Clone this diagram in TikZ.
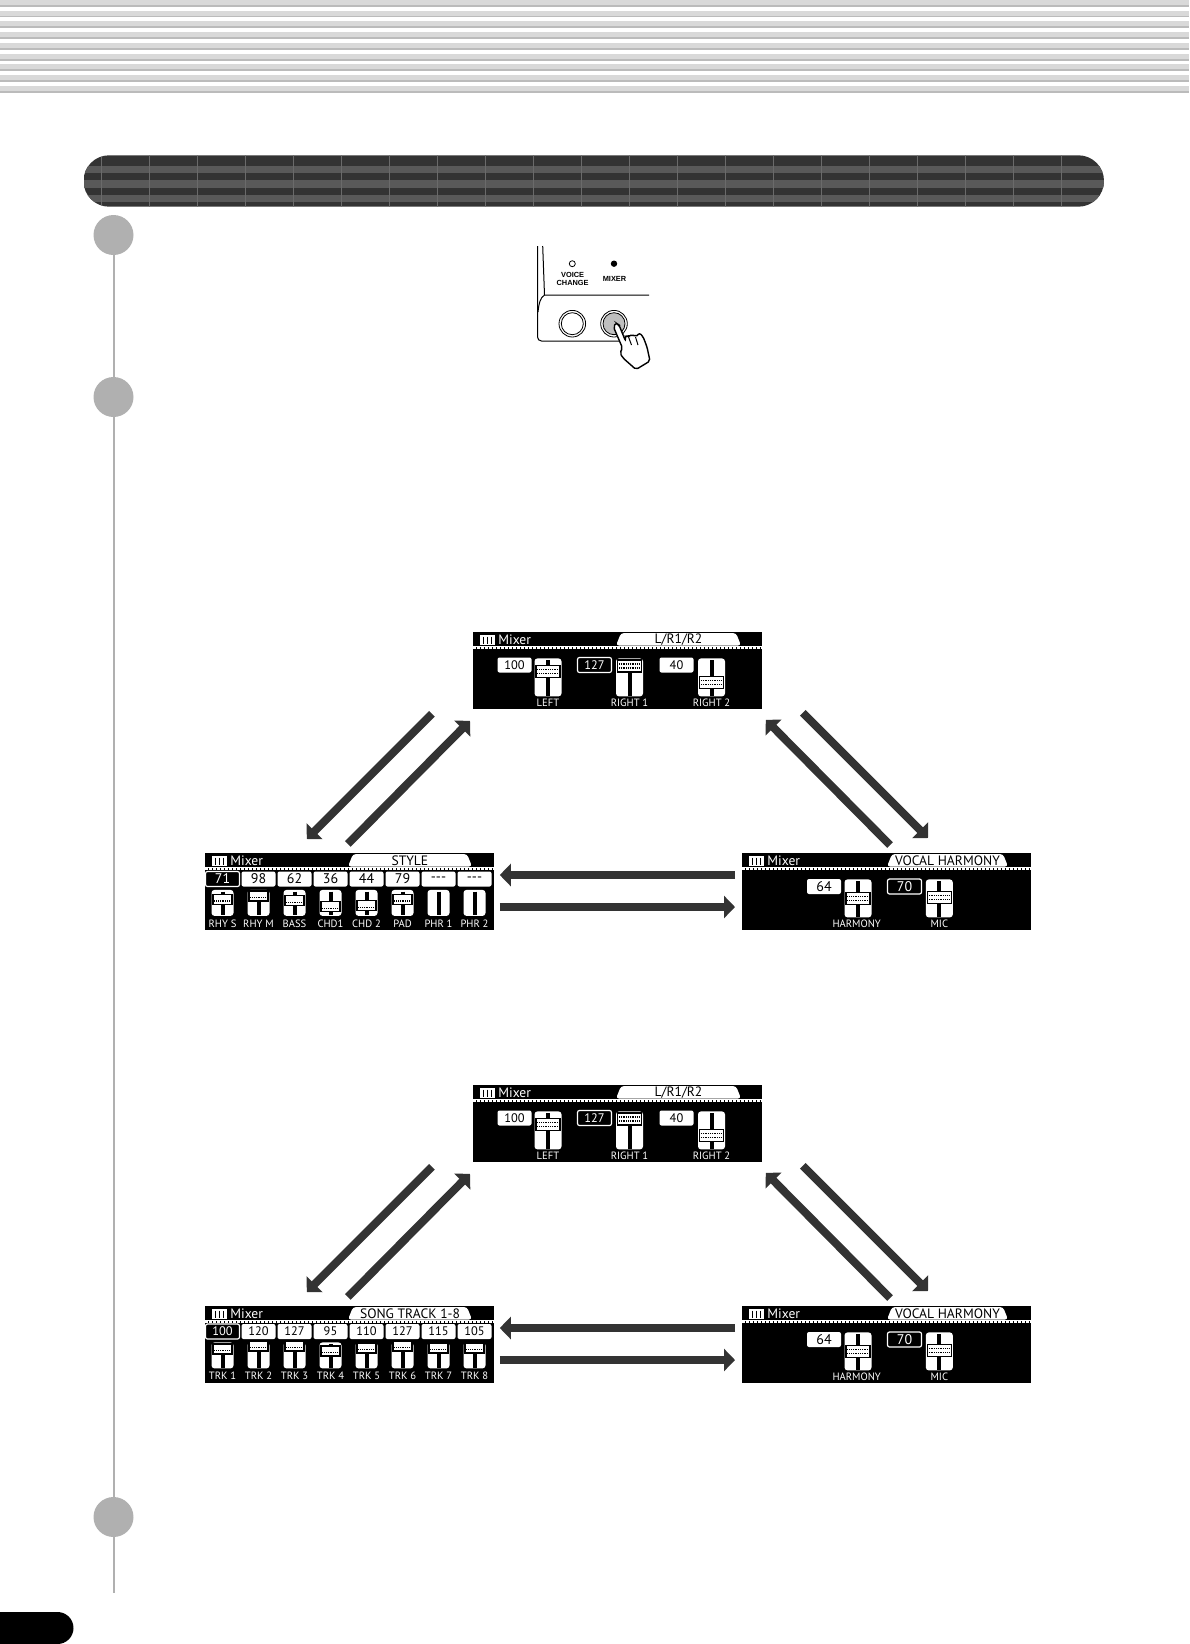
\documentclass[tikz,border=0pt]{standalone}
\usepackage{fontspec}
\setmainfont{Liberation Sans}
\newfontfamily\lcdfont{PT Sans}
\usetikzlibrary{arrows.meta}

\definecolor{stripeA}{HTML}{D9D9D9}
\definecolor{stripeB}{HTML}{BBBBBB}
\definecolor{barA}{HTML}{333333}
\definecolor{barB}{HTML}{595959}
\definecolor{barC}{HTML}{6A6A6A}
\definecolor{stepgray}{HTML}{B0B0B0}

% one fader: name, kind (big/small), x, top, grip y, row offsets
\newcommand{\fader}[6]{
    \node[#2body] (#1) at (#3, #4) {};
    \draw[faderline] ([shift={(0, 2)}]#1.north) -- ([shift={(0, -1)}]#1.south);
    \node[#2grip] (#1g) at (#3, #5) {};
    \foreach \d in {#6} {
        \draw[griprow] ([shift={(2, \d)}]#1g.west) -- ([shift={(-2, \d)}]#1g.east);
    }
}

% head of a panel: tab left, tab right, tab text
\newcommand{\mixerhead}[3]{
    \node[iconbox] (icon) at (14.5, 8) {};
    \foreach \x in {10.5, 14.5, 18.5} {
        \draw[black, line width=0.5pt] (\x, 4.5) -- (\x, 11.5);
    }
    \node[mixtext] (mixer) at (25, 7.5) {Mixer};
    \fill[white, rounded corners=1.5pt] (#1, 13.5) -- ({#1+5}, 1) -- ({#2-5}, 1) -- (#2, 13.5) -- cycle;
    \node[tabtext] (tab) at ({(#1+#2)/2}, 8) {#3};
    \draw[white, line width=0.4pt] (0, 14.2) -- (289, 14.2);
    \draw[dotrow] (0, 16) -- (289, 16);
}

% L/R1/R2 panel
\newcommand{\lrpanel}{
    \mixerhead{143}{268}{L/R1/R2}
    \node[valbox] (val1) at (41.5, 33) {100};
    \node[valinv] (val2) at (121.5, 33) {127};
    \node[valbox] (val3) at (203.5, 33) {40};
    \fader{fad1}{big}{75}{26}{39.7}{-2, 2}
    \fader{fad2}{big}{156.5}{26}{34}{-2, 2}
    \fader{fad3}{big}{238.5}{26}{50.7}{-2, 2}
    \node[faderlbl] (lbl1) at (75, 71) {LEFT};
    \node[faderlbl] (lbl2) at (156.5, 71) {RIGHT 1};
    \node[faderlbl] (lbl3) at (238.5, 71) {RIGHT 2};
}

% vocal harmony panel
\newcommand{\vocalpanel}{
    \mixerhead{145}{266}{VOCAL HARMONY}
    \node[valbox, font=\lcdfont\fontsize{7}{7}\selectfont] (val1) at (82, 33.5) {64};
    \node[valinv, font=\lcdfont\fontsize{7}{7}\selectfont] (val2) at (162.5, 33.5) {70};
    \fader{fad1}{big}{116}{26}{45.3}{-2, 2}
    \fader{fad2}{big}{197.3}{26}{44.3}{-2, 2}
    \node[faderlbl] (lbl1) at (114.7, 70.5) {HARMONY};
    \node[faderlbl] (lbl2) at (197.3, 70.5) {MIC};
}

\begin{document}
\begin{tikzpicture}[
    x=0.5pt, y=-0.5pt,
    arr/.style={-{Triangle[length=5.5pt, width=11pt]}, line width=4pt, barA},
    stepdot/.style={circle, fill=stepgray, minimum size=20pt, inner sep=0pt},
    panel/.style={fill=black, anchor=north west, inner sep=0pt, minimum width=144.5pt, minimum height=38.5pt},
    iconbox/.style={fill=white, minimum width=7.5pt, minimum height=5pt, inner sep=0pt},
    mixtext/.style={anchor=west, inner sep=0pt, text=white, font=\lcdfont\fontsize{6.8}{7}\selectfont},
    tabtext/.style={inner sep=0pt, text=black, font=\lcdfont\fontsize{6.8}{7}\selectfont},
    dotrow/.style={white, line width=1pt, dash pattern=on 1.6pt off 0.4pt},
    valbox/.style={fill=white, text=black, rounded corners=1pt, inner sep=0pt,
        minimum width=17pt, minimum height=7.5pt, font=\lcdfont\fontsize{6.2}{6}\selectfont},
    valinv/.style={valbox, fill=black, draw=white, line width=0.6pt, text=white},
    bigbody/.style={fill=white, anchor=north, rounded corners=1.5pt, inner sep=0pt,
        minimum width=13.5pt, minimum height=19pt},
    smallbody/.style={bigbody, minimum width=11pt, minimum height=13pt},
    biggrip/.style={fill=white, draw=black, line width=0.6pt, inner sep=0pt,
        minimum width=12pt, minimum height=6pt},
    smallgrip/.style={biggrip, minimum width=9.5pt, minimum height=5pt},
    faderline/.style={black, line width=2pt},
    griprow/.style={black, line width=0.7pt, dash pattern=on 0.5pt off 0.4pt},
    faderlbl/.style={inner sep=0pt, text=white, font=\lcdfont\fontsize{5.3}{5}\selectfont},
    keytext/.style={inner sep=0pt, align=center, font=\bfseries\fontsize{3.7}{4}\selectfont},
    keyring/.style={circle, draw=black, line width=0.4pt, fill=white, minimum size=13.3pt, inner sep=0pt},
    keyface/.style={circle, draw=black, line width=0.4pt, minimum size=11pt, inner sep=0pt},
]
\useasboundingbox (0, 0) rectangle (1189, 1644);

% --- Top stripes ---
\foreach \ya/\yb/\yc in {
    0/5/6.5, 11/16/17, 21/26/28, 32/37/39, 43/48/50,
    54/59/60.5, 64/69/71, 75/80/82, 86/91/93
} {
    \fill[stripeA] (0, \ya) rectangle (1189, \yb);
    \fill[stripeB] (0, \yb) rectangle (1189, \yc);
}

% --- Title bar ---
\begin{scope}
    \clip[rounded corners=12.8pt] (83.5, 155.3) rectangle (1104, 206.7);
    \fill[barA] (83.5, 155.3) rectangle (1104, 206.7);
    \foreach \ya/\yb in {166/172.7, 180/187.7, 195/201.7} {
        \fill[barB] (83.5, \ya) rectangle (1104, \yb);
    }
    \foreach \x in {101, 149, ..., 1061} {
        \draw[barC, line width=0.5pt] (\x, 155.3) -- (\x, 206.7);
    }
\end{scope}

% --- Step line ---
\node[stepdot] (step1) at (113.5, 235) {};
\node[stepdot] (step2) at (113.5, 397) {};
\node[stepdot] (step3) at (113.5, 1517) {};
\coordinate (stepend) at (113.5, 1593);
\draw[stepgray, line width=1pt] (step1) -- (step2) -- (step3) -- (stepend);

% Page tab
\fill[black, rounded corners=8pt] (-30, 1612) rectangle (73.5, 1644);

% --- Key panel ---
\draw[black, line width=0.5pt, rounded corners=2pt] (537.5, 246) -- (537.5, 341) -- (620, 341);
\draw[black, line width=0.5pt] (542.7, 246) -- (544.5, 295) -- (649, 295);
\draw[black, line width=0.5pt] (544.5, 295) .. controls (540, 298) and (539, 303) .. (538, 312);

\node[circle, draw=black, line width=0.4pt, minimum size=3pt, inner sep=0pt] (ledvoice) at (572.3, 263.7) {};
\node[circle, fill=black, minimum size=3.2pt, inner sep=0pt] (ledmixer) at (614, 263.7) {};
\node[keytext] (txtvoice) at (572.6, 279) {VOICE\\[-0.2pt]CHANGE};
\node[keytext] (txtmixer) at (614.5, 278.5) {MIXER};

\node[keyring] (ringvoice) at (572.3, 323.7) {};
\node[keyface] (facevoice) at (572.3, 323.7) {};
\node[keyring] (ringmixer) at (614, 323.7) {};
\node[keyface, fill=black!25] (facemixer) at (614, 323.7) {};

% Hand
\draw[black, line width=0.7pt, fill=white, rounded corners=1pt]
    (613.5, 327) -- (622.5, 348) -- (620, 353) -- (623, 358) -- (636, 369.5)
    -- (650, 361) -- (647, 347) -- (643, 336.5) -- (639.5, 333) -- (635.5, 337)
    -- (632, 334) -- (628.5, 337) -- (625.5, 335.5) -- (625.5, 341)
    -- (619, 325) -- (616, 323) -- cycle;
\draw[black, line width=0.5pt] (628.5, 337) -- (631.5, 345);
\draw[black, line width=0.5pt] (635.5, 337) -- (638, 345);

% --- Panels, upper triangle ---
\node[panel] (mixtop) at (473, 632) {};
\node[panel] (mixleft) at (205, 853) {};
\node[panel] (mixright) at (742, 853) {};

\begin{scope}[shift={(473, 632)}, name prefix=mixtop-]
    \lrpanel
\end{scope}

\begin{scope}[shift={(205, 853)}, name prefix=mixleft-]
    \mixerhead{143}{267}{STYLE}
    \foreach \i/\sty/\val/\grip/\lbl in {
        0/valinv/71/46.3/RHY S, 1/valbox/98/43/RHY M, 2/valbox/62/47.7/BASS,
        3/valbox/36/53.7/CHD1, 4/valbox/44/52.7/CHD 2, 5/valbox/79/46.3/PAD
    } {
        \pgfmathsetmacro{\xc}{17.5+36*\i}
        \node[\sty] (val\i) at (\xc, 26) {\fontsize{7}{7}\selectfont\val};
        \fader{fad\i}{small}{\xc}{36.5}{\grip}{1.5}
        \node[faderlbl] (lbl\i) at (\xc, 70.5) {\lbl};
    }
    \foreach \i/\lbl in {6/PHR 1, 7/PHR 2} {
        \pgfmathsetmacro{\xc}{17.5+36*\i}
        \node[valbox] (val\i) at (\xc, 26) {\fontsize{7}{7}\selectfont{-}{-}{-}};
        \node[smallbody] (fad\i) at (\xc, 36.5) {};
        \draw[faderline] ([shift={(0, 2)}]fad\i.north) -- ([shift={(0, -1)}]fad\i.south);
        \node[faderlbl] (lbl\i) at (\xc, 70.5) {\lbl};
    }
\end{scope}

\begin{scope}[shift={(742, 853)}, name prefix=mixright-]
    \vocalpanel
\end{scope}

% Arrows, upper triangle
\draw[arr] ([shift={(-41, 4)}]mixtop.south west) -- ([shift={(-188, -14)}]mixleft.north east);
\draw[arr] ([shift={(-147, -9)}]mixleft.north east) -- ([shift={(-3, 11)}]mixtop.south west);
\draw[arr] ([shift={(148, -8)}]mixright.north west) -- ([shift={(3, 10)}]mixtop.south east);
\draw[arr] ([shift={(40, 3)}]mixtop.south east) -- ([shift={(186, -15)}]mixright.north west);
\draw[arr] ([shift={(-7, 22)}]mixright.north west) -- ([shift={(5, 22)}]mixleft.north east);
\draw[arr] ([shift={(5, 54)}]mixleft.north east) -- ([shift={(-7, 54)}]mixright.north west);

% --- Panels, lower triangle ---
\node[panel] (songtop) at (473, 1085) {};
\node[panel] (songleft) at (205, 1306) {};
\node[panel] (songright) at (742, 1306) {};

\begin{scope}[shift={(473, 1085)}, name prefix=songtop-]
    \lrpanel
\end{scope}

\begin{scope}[shift={(205, 1306)}, name prefix=songleft-]
    \mixerhead{143}{267}{SONG TRACK 1-8}
    \foreach \i/\sty/\val/\grip/\lbl in {
        0/valinv/100/43/TRK 1, 1/valbox/120/40/TRK 2, 2/valbox/127/40/TRK 3,
        3/valbox/95/45/TRK 4, 4/valbox/110/42/TRK 5, 5/valbox/127/40/TRK 6,
        6/valbox/115/42/TRK 7, 7/valbox/105/42/TRK 8
    } {
        \pgfmathsetmacro{\xc}{17.5+36*\i}
        \node[\sty] (val\i) at (\xc, 25.5) {\val};
        \fader{fad\i}{small}{\xc}{36}{\grip}{1.5}
        \node[faderlbl] (lbl\i) at (\xc, 70) {\lbl};
    }
\end{scope}

\begin{scope}[shift={(742, 1306)}, name prefix=songright-]
    \vocalpanel
\end{scope}

% Arrows, lower triangle
\draw[arr] ([shift={(-41, 4)}]songtop.south west) -- ([shift={(-188, -14)}]songleft.north east);
\draw[arr] ([shift={(-147, -9)}]songleft.north east) -- ([shift={(-3, 11)}]songtop.south west);
\draw[arr] ([shift={(148, -8)}]songright.north west) -- ([shift={(3, 10)}]songtop.south east);
\draw[arr] ([shift={(40, 3)}]songtop.south east) -- ([shift={(186, -15)}]songright.north west);
\draw[arr] ([shift={(-7, 22)}]songright.north west) -- ([shift={(5, 22)}]songleft.north east);
\draw[arr] ([shift={(5, 54)}]songleft.north east) -- ([shift={(-7, 54)}]songright.north west);

\end{tikzpicture}
\end{document}
